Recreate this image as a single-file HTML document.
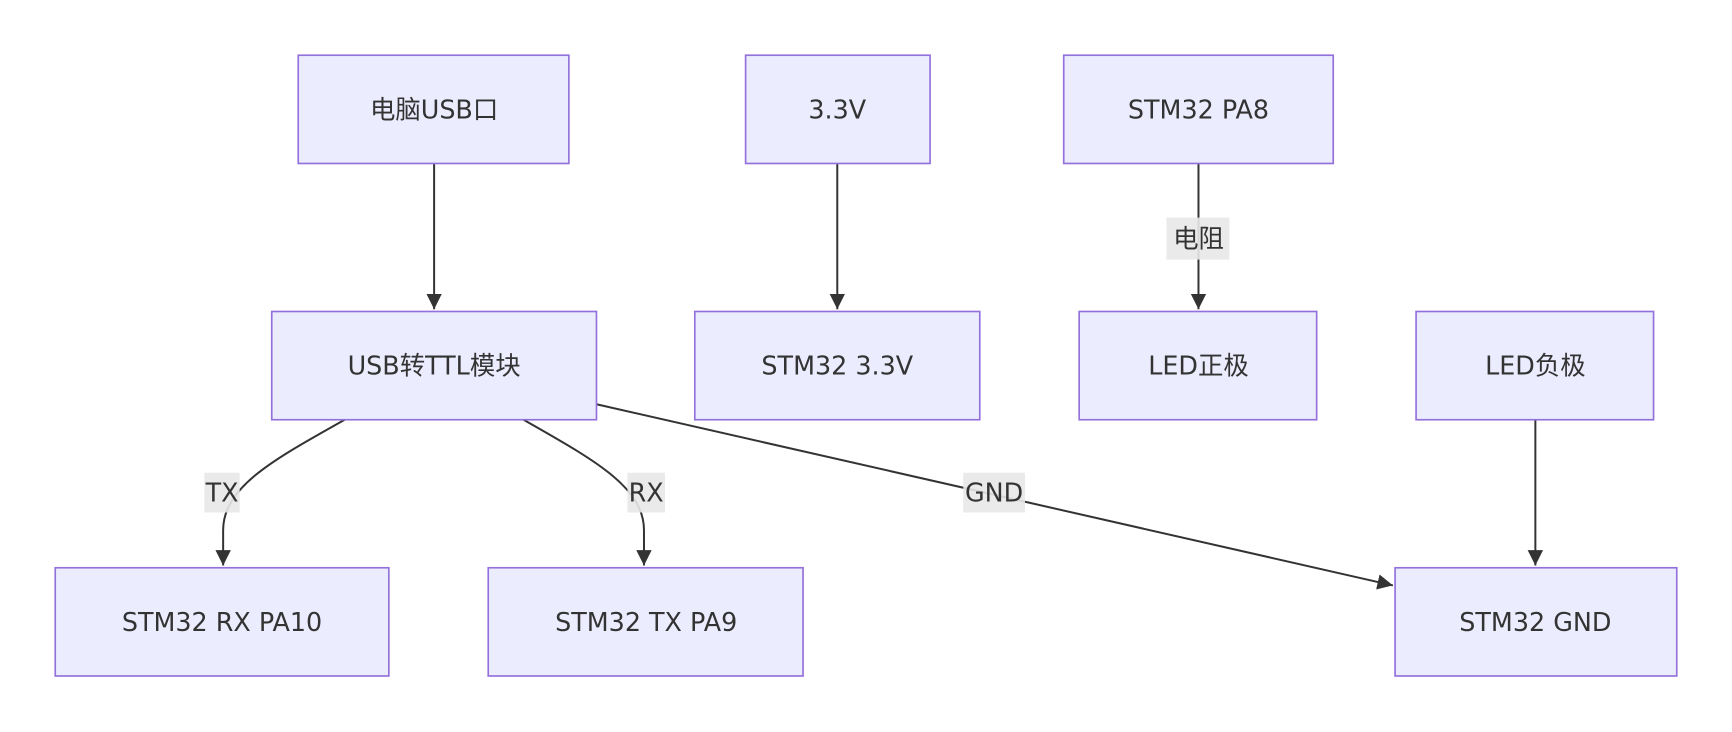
<!DOCTYPE html>
<html><head><meta charset="utf-8"><style>
html,body{margin:0;padding:0;background:#fff;}
svg{display:block;}
text{font-family:"DejaVu Sans","Noto Sans CJK SC",sans-serif;font-size:23px;fill:#333;text-anchor:middle;dominant-baseline:central;}
.n{fill:#ECECFF;stroke:#9370DB;stroke-width:1.5;}
.e{fill:none;stroke:#333;stroke-width:1.8;}
.lb{fill:#e8e8e8;opacity:0.9;}
</style></head><body>
<svg width="1732" height="732" viewBox="0 0 1568 662.7" xmlns="http://www.w3.org/2000/svg">
<defs>
<marker id="b" viewBox="0 0 10 10" refX="10" refY="5" markerWidth="14" markerHeight="14" orient="auto" markerUnits="userSpaceOnUse"><path d="M0,0L10,5L0,10z" fill="#333"/></marker></defs>
<path class="e" d="M393,148V280" marker-end="url(#b)"/>
<path class="e" d="M758,148V280" marker-end="url(#b)"/>
<path class="e" d="M1085,148V280" marker-end="url(#b)"/>
<path class="e" d="M1390,380V512" marker-end="url(#b)"/>
<path class="e" d="M312,380C250,415 202,440 202,480V512" marker-end="url(#b)"/>
<path class="e" d="M474,380C535,415 583,440 583,480V512" marker-end="url(#b)"/>
<path class="e" d="M540,366L1261,530" marker-end="url(#b)"/>
<rect class="lb" x="1056" y="197" width="57" height="38"/><text x="1085" y="216">电阻</text>
<rect class="lb" x="185" y="428" width="32" height="36"/><text x="201" y="446">TX</text>
<rect class="lb" x="568" y="428" width="34" height="36"/><text x="585" y="446">RX</text>
<rect class="lb" x="872" y="428" width="56" height="36"/><text x="900" y="446">GND</text>
<rect class="n" x="270" y="50" width="245" height="98"/><text x="393" y="99">电脑USB口</text>
<rect class="n" x="675" y="50" width="167" height="98"/><text x="758" y="99">3.3V</text>
<rect class="n" x="963" y="50" width="244" height="98"/><text x="1085" y="99">STM32 PA8</text>
<rect class="n" x="246" y="282" width="294" height="98"/><text x="393" y="331">USB转TTL模块</text>
<rect class="n" x="629" y="282" width="258" height="98"/><text x="758" y="331">STM32 3.3V</text>
<rect class="n" x="977" y="282" width="215" height="98"/><text x="1085" y="331">LED正极</text>
<rect class="n" x="1282" y="282" width="215" height="98"/><text x="1390" y="331">LED负极</text>
<rect class="n" x="50" y="514" width="302" height="98"/><text x="201" y="563">STM32 RX PA10</text>
<rect class="n" x="442" y="514" width="285" height="98"/><text x="585" y="563">STM32 TX PA9</text>
<rect class="n" x="1263" y="514" width="255" height="98"/><text x="1390" y="563">STM32 GND</text>
</svg>
</body></html>
